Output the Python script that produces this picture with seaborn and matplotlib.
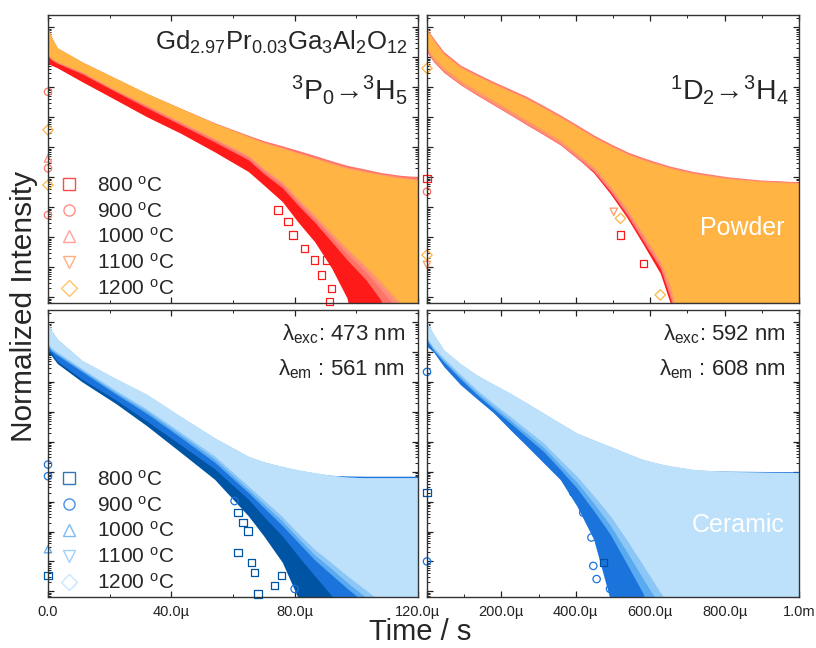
#!/usr/bin/env python3

import numpy as np
import matplotlib
matplotlib.use("Agg")
import matplotlib.pyplot as plt
from matplotlib.lines import Line2D
from matplotlib.ticker import LogLocator, NullFormatter, MultipleLocator
import seaborn as sns

temps = ["800", "900", "1000", "1100", "1200"]
marks = ["s", "o", "^", "v", "D"]
powder_cols = ["#ff1a1a", "#ff7466", "#ff8a80", "#ff9a66", "#ffb444"]
ceramic_cols = ["#0054a4", "#1a74dc", "#5aaaf0", "#8cc6f6", "#bde0fb"]

# time in microseconds
t_short = [0, 1, 3, 11, 22, 32, 43, 54, 65, 70, 76, 81, 86.5, 92, 97, 103, 108, 114, 120]
t_long = [0, 4, 18, 45, 90, 134, 179, 224, 269, 313, 358, 403, 448, 493, 538, 582,
          627, 654, 717, 806, 896, 1000]

# log10(normalized intensity): upper / lower edge of each noisy decay band,
# one row per temperature (800..1200). -12 = below the axis
p3_hi = [
    [0.0, -0.95, -1.05, -1.45, -2.05, -2.55, -3.1, -3.6, -4.1, -4.35, -4.55, -4.7, -4.85, -4.95, -5.02, -5.06, -5.08, -5.1, -5.12],
    [0.0, -0.32, -0.7, -1.17, -1.72, -2.21, -2.7, -3.18, -3.6, -3.78, -3.95, -4.1, -4.27, -4.45, -4.6, -4.73, -4.84, -4.93, -4.98],
    [0.0, -0.31, -0.69, -1.16, -1.71, -2.21, -2.7, -3.19, -3.63, -3.82, -4.0, -4.16, -4.33, -4.5, -4.66, -4.78, -4.88, -4.98, -5.05],
    [0.0, -0.3, -0.68, -1.15, -1.7, -2.2, -2.7, -3.2, -3.64, -3.84, -4.02, -4.18, -4.35, -4.53, -4.68, -4.8, -4.9, -5.0, -5.07],
    [0.0, -0.3, -0.68, -1.15, -1.7, -2.2, -2.7, -3.2, -3.65, -3.85, -4.03, -4.2, -4.37, -4.55, -4.7, -4.82, -4.92, -5.02, -5.09],
]
p3_lo = [
    [-1.2, -1.26, -1.35, -1.81, -2.42, -2.98, -3.53, -4.15, -4.81, -5.26, -5.81, -6.48, -7.15, -8.03, -9.03, -12, -12, -12, -12],
    [-0.95, -1.08, -1.2, -1.55, -2.15, -2.68, -3.25, -3.82, -4.42, -4.88, -5.35, -5.92, -6.5, -7.15, -7.75, -8.4, -9.1, -12, -12],
    [-0.92, -1.05, -1.17, -1.51, -2.12, -2.63, -3.2, -3.76, -4.34, -4.8, -5.25, -5.82, -6.38, -7.0, -7.55, -8.15, -8.75, -9.5, -12],
    [-0.91, -1.04, -1.16, -1.5, -2.1, -2.61, -3.17, -3.73, -4.3, -4.75, -5.2, -5.76, -6.32, -6.92, -7.45, -8.05, -8.6, -9.3, -12],
    [-0.9, -1.03, -1.15, -1.48, -2.09, -2.59, -3.15, -3.7, -4.26, -4.7, -5.15, -5.7, -6.26, -6.85, -7.37, -7.95, -8.48, -9.15, -12],
]
d2_hi = [
    [-0.4, -0.5, -0.75, -1.15, -1.6, -1.9, -2.2, -2.5, -2.8, -3.1, -3.4, -3.75, -4.1, -4.4, -4.6, -4.75, -4.85, -4.9, -5.0, -5.08, -5.12, -5.15],
    [0.0, -0.12, -0.37, -0.81, -1.26, -1.54, -1.81, -2.06, -2.31, -2.61, -2.92, -3.25, -3.59, -3.88, -4.15, -4.35, -4.53, -4.63, -4.81, -4.98, -5.09, -5.15],
    [0.0, -0.15, -0.41, -0.86, -1.3, -1.58, -1.85, -2.1, -2.35, -2.65, -2.96, -3.29, -3.63, -3.92, -4.19, -4.39, -4.56, -4.66, -4.84, -5.0, -5.11, -5.17],
    [0.0, -0.16, -0.43, -0.88, -1.32, -1.6, -1.87, -2.12, -2.37, -2.67, -2.98, -3.31, -3.65, -3.94, -4.21, -4.41, -4.58, -4.68, -4.86, -5.02, -5.12, -5.18],
    [0.0, -0.18, -0.45, -0.9, -1.34, -1.62, -1.89, -2.14, -2.39, -2.69, -3.0, -3.33, -3.67, -3.96, -4.23, -4.43, -4.6, -4.7, -4.88, -5.04, -5.14, -5.2],
]
d2_lo = [
    [-0.82, -0.9, -1.14, -1.49, -1.9, -2.24, -2.57, -2.9, -3.24, -3.56, -3.9, -4.35, -4.85, -5.55, -6.35, -7.25, -8.2, -9.2, -12, -12, -12, -12],
    [-0.81, -0.9, -1.15, -1.5, -1.92, -2.26, -2.59, -2.92, -3.26, -3.58, -3.92, -4.37, -4.81, -5.48, -6.26, -7.15, -8.03, -9.03, -12, -12, -12, -12],
    [-0.78, -0.87, -1.12, -1.47, -1.89, -2.23, -2.56, -2.89, -3.22, -3.54, -3.88, -4.32, -4.76, -5.42, -6.2, -7.05, -7.95, -8.9, -12, -12, -12, -12],
    [-0.75, -0.84, -1.09, -1.44, -1.86, -2.2, -2.52, -2.85, -3.18, -3.5, -3.84, -4.27, -4.71, -5.37, -6.13, -6.98, -7.88, -8.8, -12, -12, -12, -12],
    [-0.65, -0.75, -1.0, -1.35, -1.77, -2.1, -2.43, -2.76, -3.1, -3.42, -3.76, -4.2, -4.65, -5.3, -6.05, -6.9, -7.8, -8.6, -12, -12, -12, -12],
]
c473_hi = [
    [-0.85, -0.9, -1.05, -1.65, -2.35, -3.0, -3.8, -4.55, -5.0, -5.1, -5.15, -5.18, -5.2, -5.2, -5.2, -5.2, -5.2, -5.2, -5.2],
    [-0.6, -0.65, -0.8, -1.4, -2.05, -2.6, -3.35, -4.1, -4.6, -4.8, -4.95, -5.03, -5.08, -5.12, -5.14, -5.15, -5.15, -5.15, -5.15],
    [0.0, -0.27, -0.57, -1.29, -1.9, -2.43, -3.17, -3.88, -4.5, -4.68, -4.84, -4.95, -5.05, -5.13, -5.18, -5.2, -5.2, -5.2, -5.2],
    [0.0, -0.26, -0.56, -1.28, -1.89, -2.42, -3.15, -3.87, -4.49, -4.67, -4.83, -4.94, -5.04, -5.12, -5.18, -5.2, -5.2, -5.2, -5.2],
    [0.0, -0.25, -0.55, -1.27, -1.88, -2.4, -3.14, -3.86, -4.48, -4.66, -4.82, -4.93, -5.03, -5.12, -5.18, -5.2, -5.2, -5.2, -5.2],
]
c473_lo = [
    [-1.03, -1.1, -1.38, -1.99, -2.72, -3.46, -4.35, -5.25, -6.48, -7.15, -8.03, -9.2, -12, -12, -12, -12, -12, -12, -12],
    [-0.95, -1.0, -1.3, -1.9, -2.6, -3.3, -4.1, -4.9, -5.92, -6.5, -7.15, -7.8, -8.48, -9.15, -12, -12, -12, -12, -12],
    [-0.8, -0.95, -1.1, -1.65, -2.4, -3.05, -3.85, -4.68, -5.7, -6.2, -6.8, -7.35, -7.95, -8.45, -8.9, -9.4, -12, -12, -12],
    [-0.75, -0.9, -1.05, -1.6, -2.34, -2.97, -3.76, -4.57, -5.6, -6.08, -6.65, -7.2, -7.78, -8.25, -8.7, -9.2, -12, -12, -12],
    [-0.7, -0.85, -1.0, -1.55, -2.28, -2.9, -3.68, -4.47, -5.48, -5.95, -6.5, -7.05, -7.6, -8.05, -8.48, -8.95, -9.35, -12, -12],
]
c592_hi = [
    [-0.6, -0.7, -0.9, -1.3, -1.8, -2.25, -2.68, -3.1, -3.5, -3.9, -4.25, -4.55, -4.75, -4.88, -4.95, -4.98, -5.0, -5.01, -5.02, -5.03, -5.04, -5.05],
    [-0.3, -0.4, -0.65, -1.1, -1.6, -2.05, -2.45, -2.85, -3.25, -3.65, -4.0, -4.3, -4.55, -4.72, -4.82, -4.88, -4.92, -4.94, -4.96, -4.98, -4.99, -5.0],
    [0.0, -0.1, -0.42, -0.94, -1.4, -1.78, -2.09, -2.39, -2.72, -3.05, -3.39, -3.72, -3.95, -4.17, -4.4, -4.61, -4.75, -4.82, -4.94, -5.01, -5.03, -5.05],
    [0.0, -0.09, -0.41, -0.93, -1.39, -1.77, -2.08, -2.38, -2.71, -3.04, -3.38, -3.71, -3.94, -4.16, -4.39, -4.6, -4.74, -4.81, -4.93, -5.0, -5.02, -5.04],
    [0.0, -0.08, -0.4, -0.92, -1.38, -1.76, -2.07, -2.37, -2.7, -3.03, -3.37, -3.7, -3.93, -4.15, -4.38, -4.59, -4.73, -4.8, -4.92, -4.99, -5.01, -5.03],
]
c592_lo = [
    [-0.78, -0.82, -0.97, -1.43, -2.03, -2.5, -2.97, -3.53, -4.07, -4.6, -5.15, -6.0, -7.05, -8.8, -12, -12, -12, -12, -12, -12, -12, -12],
    [-0.81, -0.85, -1.0, -1.48, -2.09, -2.56, -3.03, -3.6, -4.15, -4.7, -5.26, -6.15, -7.26, -9.3, -12, -12, -12, -12, -12, -12, -12, -12],
    [-0.6, -0.7, -0.95, -1.33, -1.9, -2.42, -2.9, -3.37, -3.85, -4.32, -4.92, -5.55, -6.3, -7.1, -8.1, -9.1, -12, -12, -12, -12, -12, -12],
    [-0.55, -0.65, -0.9, -1.27, -1.83, -2.35, -2.82, -3.27, -3.73, -4.18, -4.77, -5.35, -6.05, -6.8, -7.7, -8.6, -9.5, -12, -12, -12, -12, -12],
    [-0.5, -0.6, -0.85, -1.2, -1.75, -2.26, -2.72, -3.15, -3.6, -4.03, -4.6, -5.15, -5.8, -6.48, -7.3, -8.15, -9.03, -9.5, -12, -12, -12, -12],
]

# loose single points (time µs, log10 intensity, series index)
p3_pts_t = [74.6, 77.8, 79.5, 83.2, 86.5, 90.3, 88.6, 91.9, 91.4, 0, 0, 0, 0, 0, 0]
p3_pts_y = [-6.09, -6.48, -6.92, -7.37, -7.76, -7.76, -8.26, -8.7, -9.15, -2.15, -3.42, -4.37, -4.7, -5.26, -6.26]
p3_pts_s = [0, 0, 0, 0, 0, 0, 0, 0, 0, 1, 4, 2, 1, 4, 1]
d2_pts_t = [520, 582, 502, 520, 627, 0, 0, 0, 0, 0]
d2_pts_y = [-6.92, -7.87, -6.15, -6.37, -8.92, -1.37, -5.03, -5.48, -7.59, -7.92]
d2_pts_s = [0, 0, 3, 4, 4, 4, 0, 1, 4, 3]
c473_pts_t = [61.6, 63.2, 64.9, 61.6, 65.9, 67.0, 68.1, 73.5, 75.7, 80.0, 60.5, 0, 0, 0, 0]
c473_pts_y = [-6.37, -6.7, -6.98, -7.7, -8.03, -8.37, -9.09, -8.81, -8.48, -8.92, -5.98, -4.76, -5.15, -7.59, -8.48]
c473_pts_s = [0, 0, 0, 0, 0, 0, 0, 0, 0, 1, 1, 1, 1, 2, 0]
c592_pts_t = [393, 420, 442, 447, 456, 492, 519, 474, 0, 0, 0]
c592_pts_y = [-5.7, -6.37, -7.2, -8.15, -8.59, -8.92, -8.92, -8.03, -1.66, -5.7, -8.0]
c592_pts_s = [1, 1, 1, 1, 1, 1, 1, 0, 1, 0, 1]

sns.set_style("ticks")
plt.rcParams["font.family"] = ["Liberation Sans", "DejaVu Sans"]
plt.rcParams["mathtext.fontset"] = "custom"
plt.rcParams["mathtext.rm"] = "Liberation Sans"
plt.rcParams["mathtext.default"] = "regular"
plt.rcParams["axes.linewidth"] = 1.0

fig = plt.figure(figsize=(8.16, 6.48), dpi=100)
W, H = 816, 648


def box(x0, y0, x1, y1):
    return [x0 / W, 1 - y1 / H, (x1 - x0) / W, (y1 - y0) / H]


ax_tl = fig.add_axes(box(48, 15, 418, 303))
ax_tr = fig.add_axes(box(427, 15, 799, 303))
ax_bl = fig.add_axes(box(48, 310, 418, 597))
ax_br = fig.add_axes(box(427, 310, 799, 597))

panels = [
    (ax_tl, t_short, p3_hi, p3_lo, powder_cols, p3_pts_t, p3_pts_y, p3_pts_s),
    (ax_tr, t_long, d2_hi, d2_lo, powder_cols, d2_pts_t, d2_pts_y, d2_pts_s),
    (ax_bl, t_short, c473_hi, c473_lo, ceramic_cols, c473_pts_t, c473_pts_y, c473_pts_s),
    (ax_br, t_long, c592_hi, c592_lo, ceramic_cols, c592_pts_t, c592_pts_y, c592_pts_s),
]

for ax, t, hi, lo, cols, pt, py, ps in panels:
    t = np.array(t)
    for i in range(5):
        ax.fill_between(t, 10.0 ** np.array(lo[i]), 10.0 ** np.array(hi[i]),
                        color=cols[i], lw=0, zorder=2 + i)
    for x, y, s in zip(pt, py, ps):
        ax.scatter([x], [10.0 ** y], marker=marks[s], s=28, facecolors="none",
                   edgecolors=cols[s], linewidths=0.9, zorder=8, clip_on=False)
    ax.set_yscale("log")
    ax.set_ylim(10 ** -9.19, 10 ** 0.41)
    ax.yaxis.set_major_locator(LogLocator(base=10, numticks=30))
    ax.yaxis.set_minor_locator(LogLocator(base=10, subs=np.arange(2, 10), numticks=30))
    ax.yaxis.set_major_formatter(NullFormatter())
    ax.yaxis.set_minor_formatter(NullFormatter())
    ax.tick_params(which="both", direction="in", top=True, right=True,
                   labelsize=10.5, colors="#222222")
    ax.tick_params(which="major", length=4, width=0.9)
    ax.tick_params(which="minor", length=2.2, width=0.7)
    for sp in ax.spines.values():
        sp.set_color("#333333")
        sp.set_zorder(10)

for ax in (ax_tl, ax_bl):
    ax.set_xlim(0, 120)
    ax.set_xticks([0, 40, 80, 120], labels=["0.0", "40.0\u00b5", "80.0\u00b5", "120.0\u00b5"])
    ax.xaxis.set_minor_locator(MultipleLocator(20))
for ax in (ax_tr, ax_br):
    ax.set_xlim(0, 1000)
    ax.set_xticks([0, 200, 400, 600, 800, 1000],
                  labels=["", "200.0\u00b5", "400.0\u00b5", "600.0\u00b5", "800.0\u00b5", "1.0m"])
    ax.xaxis.set_minor_locator(MultipleLocator(100))
for ax in (ax_tl, ax_tr):
    ax.tick_params(labelbottom=False)
for ax in (ax_bl, ax_br):
    ax.tick_params(axis="x", pad=6)

# legends
for ax, cols in ((ax_tl, powder_cols), (ax_bl, ceramic_cols)):
    handles = [Line2D([], [], ls="", marker=marks[i], ms=8, mfc="none", mec=cols[i],
                      mew=1.0, alpha=0.8) for i in range(5)]
    labels = [f"{tp} $^{{o}}$C" for tp in temps]
    ax.legend(handles, labels, loc="lower left", bbox_to_anchor=(0.02, 0.0),
              frameon=False, fontsize=15, handlelength=0.95, handletextpad=0.85,
              labelspacing=0.28, borderaxespad=0.0, borderpad=0.2)

ax_tl.text(0.973, 0.905, "Gd$_{2.97}$Pr$_{0.03}$Ga$_3$Al$_2$O$_{12}$", transform=ax_tl.transAxes,
           ha="right", va="center", fontsize=18.5, zorder=12)
ax_tl.text(0.973, 0.74, "$^3$P$_0$\u2192$^3$H$_5$", transform=ax_tl.transAxes,
           ha="right", va="center", fontsize=20.5, zorder=12)
ax_tr.text(0.973, 0.74, "$^1$D$_2$\u2192$^3$H$_4$", transform=ax_tr.transAxes,
           ha="right", va="center", fontsize=20.5, zorder=12)
ax_tr.text(0.962, 0.262, "Powder", transform=ax_tr.transAxes, color="white",
           ha="right", va="center", fontsize=18, zorder=12)
ax_br.text(0.962, 0.252, "Ceramic", transform=ax_br.transAxes, color="white",
           ha="right", va="center", fontsize=18, zorder=12)
for ax, exc, em in ((ax_bl, "473", "561"), (ax_br, "592", "608")):
    ax.text(0.965, 0.915, "\u03bb$_{exc}$: " + exc + " nm", transform=ax.transAxes,
            ha="right", va="center", fontsize=16, zorder=12)
    ax.text(0.965, 0.795, "\u03bb$_{em}$ : " + em + " nm", transform=ax.transAxes,
            ha="right", va="center", fontsize=16, zorder=12)

fig.text(0.029, 0.527, "Normalized Intensity", rotation=90, ha="center", va="center", fontsize=21.5)
fig.text(0.515, 0.025, "Time / s", ha="center", va="center", fontsize=21)

fig.savefig("out.png", dpi=100)
